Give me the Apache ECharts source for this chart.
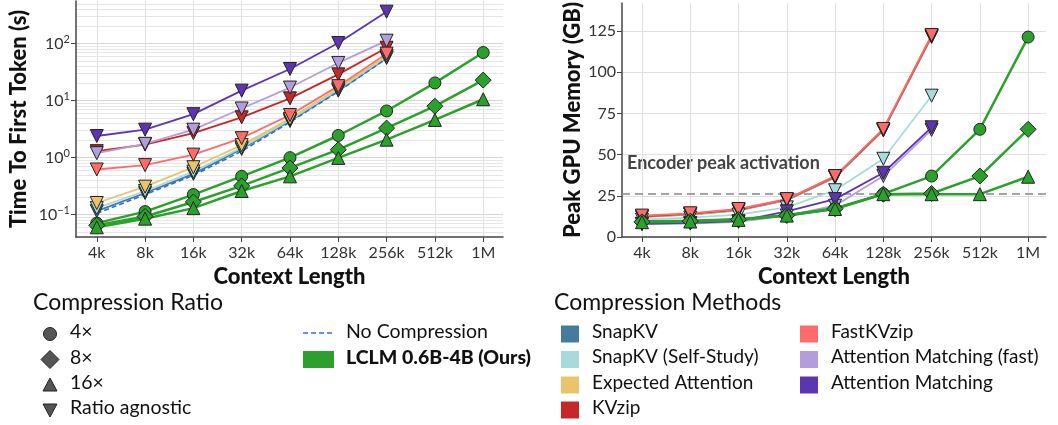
<!DOCTYPE html>
<html>
<head>
<meta charset="utf-8">
<script src="https://cdn.jsdelivr.net/npm/echarts@6/dist/echarts.min.js"></script>
<style>
  html, body { margin: 0; padding: 0; background: #fff; }
  #chart { width: 1058px; height: 425px; }
</style>
</head>
<body>
<div id="chart"></div>
<script>
// context lengths (x categories)
const contexts = ['4k', '8k', '16k', '32k', '64k', '128k', '256k', '512k', '1M'];

// time to first token (s)
const ttftSnapKV     = [0.115, 0.24, 0.52, 1.42, 4.4, 15, 56];
const ttftSelfStudy  = [0.13, 0.26, 0.57, 1.5, 4.6, 15.5, 58];
const ttftExpected   = [0.16, 0.31, 0.68, 1.66, 4.8, 16.5, 62];
const ttftKVzip      = [1.3, 1.7, 2.7, 5.1, 11, 29, 85];
const ttftFastKVzip  = [0.62, 0.74, 1.13, 2.2, 5.6, 18, 67];
const ttftAMFast     = [1.2, 1.75, 3.1, 7.3, 17, 46, 113];
const ttftAM         = [2.4, 3.1, 5.8, 15, 36, 103, 365];
const ttftNoComp     = [0.105, 0.225, 0.49, 1.3, 4.2, 14.5, 55];
const ttftLclm4      = [0.071, 0.113, 0.225, 0.47, 1.0, 2.45, 6.6, 20.5, 70];
const ttftLclm8      = [0.065, 0.093, 0.167, 0.32, 0.66, 1.38, 3.3, 8.0, 23];
const ttftLclm16     = [0.06, 0.085, 0.13, 0.26, 0.47, 0.99, 2.07, 4.6, 10.6];

// peak GPU memory (GB)
const memSnapKV      = [12.2, 13.6, 16.2, 22.4, 36.2, 64.8, 121.5];
const memSelfStudy   = [10.5, 11.8, 13.6, 18, 28.4, 47.5, 85.8];
const memExpected    = [12.4, 13.8, 16.4, 22.6, 36.5, 65, 122];
const memKVzip       = [12.6, 14, 16.6, 22.8, 36.8, 65.2, 122.2];
const memFastKVzip   = [13, 14.4, 17, 23, 37, 65.6, 122.6];
const memAMFast      = [7.8, 8.2, 9.2, 13, 19, 37, 65];
const memAM          = [8, 8.6, 9.6, 15.6, 23, 39, 66.6];
const memLclm4       = [9.4, 9.8, 10.8, 13.2, 17.4, 26.2, 37, 65.4, 121.4];
const memLclm8       = [9.2, 9.6, 10.6, 13.1, 17.2, 26, 26.4, 37, 65.4];
const memLclm16      = [9.0, 9.4, 10.4, 13.0, 17.0, 26, 26, 26, 36.6];
const encoderPeak    = 26;
const encoderLabel   = 'Encoder peak activation';

const ttftTicks = [0.1, 1, 10, 100];
const memTicks  = [0, 25, 50, 75, 100, 125];
const idxTicks  = contexts.map((c, i) => i);

const methods = [
  { name: 'SnapKV',                   color: '#457B9D', ttft: ttftSnapKV,    mem: memSnapKV },
  { name: 'SnapKV (Self-Study)',      color: '#A8DADC', ttft: ttftSelfStudy, mem: memSelfStudy },
  { name: 'Expected Attention',       color: '#E9C46A', ttft: ttftExpected,  mem: memExpected },
  { name: 'KVzip',                    color: '#C62828', ttft: ttftKVzip,     mem: memKVzip },
  { name: 'FastKVzip',                color: '#FF6B6B', ttft: ttftFastKVzip, mem: memFastKVzip },
  { name: 'Attention Matching (fast)', color: '#B39DDB', ttft: ttftAMFast,   mem: memAMFast },
  { name: 'Attention Matching',       color: '#5E35B1', ttft: ttftAM,        mem: memAM }
];
const lclm = [
  { name: '4×',  symbol: 'circle',   size: 12, ttft: ttftLclm4,  mem: memLclm4 },
  { name: '8×',  symbol: 'diamond',  size: 16, ttft: ttftLclm8,  mem: memLclm8 },
  { name: '16×', symbol: 'triangle', size: 13, ttft: ttftLclm16, mem: memLclm16 }
];
const GREEN = '#2CA02C';
const FONT = 'Lato, "Noto Sans", sans-serif';

// minor log gridlines 2..9 x 10^n
const minorGrid = [];
for (let e = -2; e <= 2; e++) {
  for (let k = 2; k <= 9; k++) {
    const v = k * Math.pow(10, e);
    if (v > 0.0405 && v < 562) minorGrid.push({ yAxis: v });
  }
}

const pts = arr => arr.map((v, i) => [i, v]);

function xAxisOf(gridIndex, min, max) {
  return {
    type: 'value', gridIndex: gridIndex, min: min, max: max,
    name: 'Context Length', nameLocation: 'middle', nameGap: 29,
    nameTextStyle: { fontFamily: FONT, fontSize: 22, fontWeight: 900, color: '#111' },
    axisLine: { show: true, onZero: false, lineStyle: { color: '#444', width: 1.5 } },
    axisTick: { show: true, length: 5, lineStyle: { color: '#444' }, customValues: idxTicks },
    axisLabel: {
      customValues: idxTicks, margin: 8,
      fontFamily: FONT, fontSize: 16, color: '#333',
      formatter: v => contexts[Math.round(v)] || ''
    },
    splitLine: { show: true, lineStyle: { color: '#e0e0e0', width: 1 } }
  };
}

const series = [];
// minor grid for the log axis, kept under everything else
series.push({
  name: 'minor-grid', type: 'line', xAxisIndex: 0, yAxisIndex: 0,
  data: [], silent: true, z: 0,
  markLine: {
    silent: true, symbol: 'none', animation: false, z: 0,
    label: { show: false },
    lineStyle: { color: '#e6e6e6', width: 1, type: 'solid' },
    data: minorGrid
  },
  animation: false
});
methods.forEach(m => {
  series.push({
    name: m.name, type: 'line', xAxisIndex: 0, yAxisIndex: 0,
    data: pts(m.ttft), symbol: 'triangle', symbolRotate: 180, symbolSize: 13,
    lineStyle: { color: m.color, width: 1.8 },
    itemStyle: { color: m.color, borderColor: '#222', borderWidth: 1 },
    animation: false
  });
});
series.push({
  name: 'No Compression', type: 'line', xAxisIndex: 0, yAxisIndex: 0,
  data: pts(ttftNoComp), showSymbol: false,
  lineStyle: { color: '#2F6FD0', width: 1.6, type: [5, 3] },
  animation: false
});
lclm.forEach(l => {
  series.push({
    name: 'LCLM ' + l.name, type: 'line', xAxisIndex: 0, yAxisIndex: 0,
    data: pts(l.ttft), symbol: l.symbol, symbolSize: l.size,
    lineStyle: { color: GREEN, width: 2.5 },
    itemStyle: { color: GREEN, borderColor: '#222', borderWidth: 1 },
    animation: false
  });
});
// encoder peak reference line
series.push({
  name: 'encoder-peak', type: 'line', xAxisIndex: 1, yAxisIndex: 1,
  data: [], silent: true, z: 1,
  markLine: {
    silent: true, symbol: 'none', animation: false, z: 1,
    label: { show: false },
    lineStyle: { color: '#888', width: 1.5, type: [8, 5] },
    data: [{ yAxis: encoderPeak }]
  },
  animation: false
});
methods.forEach(m => {
  series.push({
    name: m.name, type: 'line', xAxisIndex: 1, yAxisIndex: 1,
    data: pts(m.mem), symbol: 'triangle', symbolRotate: 180, symbolSize: 13,
    lineStyle: { color: m.color, width: 1.8 },
    itemStyle: { color: m.color, borderColor: '#222', borderWidth: 1 },
    animation: false
  });
});
lclm.forEach(l => {
  series.push({
    name: 'LCLM ' + l.name, type: 'line', xAxisIndex: 1, yAxisIndex: 1,
    data: pts(l.mem), symbol: l.symbol, symbolSize: l.size,
    lineStyle: { color: GREEN, width: 2.5 },
    itemStyle: { color: GREEN, borderColor: '#222', borderWidth: 1 },
    animation: false
  });
});

// legends
const graphics = [];
const txt = (x, y, s, size, weight, color) => ({
  type: 'text', left: x, top: y - size * 0.62,
  style: { text: s, fontFamily: FONT, fontSize: size, fontWeight: weight || 'normal', fill: color || '#111' }
});
graphics.push(txt(33, 305, 'Compression Ratio', 23));
const rowY = [334, 359.5, 385, 410];
const ratioNames = ['4×', '8×', '16×', 'Ratio agnostic'];
const grey = { fill: '#555', stroke: '#222', lineWidth: 1 };
graphics.push({ type: 'circle', shape: { cx: 50, cy: rowY[0], r: 6.5 }, style: grey });
graphics.push({ type: 'polygon', shape: { points: [[50, rowY[1] - 9], [59, rowY[1]], [50, rowY[1] + 9], [41, rowY[1]]] }, style: grey });
graphics.push({ type: 'polygon', shape: { points: [[50, rowY[2] - 7], [57, rowY[2] + 6], [43, rowY[2] + 6]] }, style: grey });
graphics.push({ type: 'polygon', shape: { points: [[43, rowY[3] - 6], [57, rowY[3] - 6], [50, rowY[3] + 7]] }, style: grey });
ratioNames.forEach((n, i) => graphics.push(txt(70, rowY[i], n, 19.5)));

graphics.push({ type: 'line', shape: { x1: 303, y1: 333, x2: 333, y2: 333 }, style: { stroke: '#2F6FD0', lineWidth: 1.5, lineDash: [5, 3] } });
graphics.push(txt(346, 334, 'No Compression', 19.5));
graphics.push({ type: 'rect', shape: { x: 303, y: 351, width: 31, height: 17 }, style: { fill: GREEN } });
graphics.push(txt(346, 360, 'LCLM 0.6B-4B (Ours)', 19.5, 900));

graphics.push(txt(554, 305, 'Compression Methods', 23));
const colOrder = [[0, 1, 2, 3], [4, 5, 6]];
const colX = [561, 800];
colOrder.forEach((col, c) => {
  col.forEach((mi, r) => {
    const m = methods[mi];
    graphics.push({ type: 'rect', shape: { x: colX[c], y: rowY[r] - 8.5, width: 18, height: 17 }, style: { fill: m.color } });
    graphics.push(txt(colX[c] + 31, rowY[r], m.name, 19));
  });
});
graphics.push(txt(627, 165, encoderLabel, 18, 'bold', '#444'));

const chart = echarts.init(document.getElementById('chart'), null, { renderer: 'canvas' });
chart.setOption({
  animation: false,
  textStyle: { fontFamily: FONT },
  grid: [
    { left: 76, right: 555, top: 1, bottom: 188 },
    { left: 622, right: 12, top: 1, bottom: 188 }
  ],
  xAxis: [xAxisOf(0, -0.43, 8.41), xAxisOf(1, -0.414, 8.37)],
  yAxis: [
    {
      type: 'log', logBase: 10, gridIndex: 0, min: 0.0405, max: 562,
      name: 'Time To First Token (s)', nameLocation: 'middle', nameGap: 46,
      nameTextStyle: { fontFamily: FONT, fontSize: 22, fontWeight: 900, color: '#111' },
      axisLine: { show: true, onZero: false, lineStyle: { color: '#444', width: 1.5 } },
      axisTick: { show: true, length: 5, lineStyle: { color: '#444' }, customValues: ttftTicks },
      axisLabel: {
        customValues: ttftTicks, margin: 6, color: '#333',
        formatter: v => {
          const e = Math.round(Math.log10(v));
          return '{b|10}{s|' + (e < 0 ? '−' + (-e) : e) + '}';
        },
        rich: {
          b: { fontFamily: FONT, fontSize: 16, color: '#333', lineHeight: 20 },
          s: { fontFamily: FONT, fontSize: 11, color: '#333', verticalAlign: 'top', lineHeight: 12 }
        }
      },
      splitLine: { show: true, lineStyle: { color: '#d6d6d6', width: 1 } }
    },
    {
      type: 'value', gridIndex: 1, min: 0, max: 142,
      name: 'Peak GPU Memory (GB)', nameLocation: 'middle', nameGap: 38,
      nameTextStyle: { fontFamily: FONT, fontSize: 22, fontWeight: 900, color: '#111' },
      axisLine: { show: true, onZero: false, lineStyle: { color: '#444', width: 1.5 } },
      axisTick: { show: true, length: 5, lineStyle: { color: '#444' }, customValues: memTicks },
      axisLabel: { customValues: memTicks, margin: 6, fontFamily: FONT, fontSize: 16, color: '#333' },
      splitLine: { show: true, lineStyle: { color: '#e0e0e0', width: 1 } }
    }
  ],
  series: series,
  graphic: graphics
});
</script>
</body>
</html>
